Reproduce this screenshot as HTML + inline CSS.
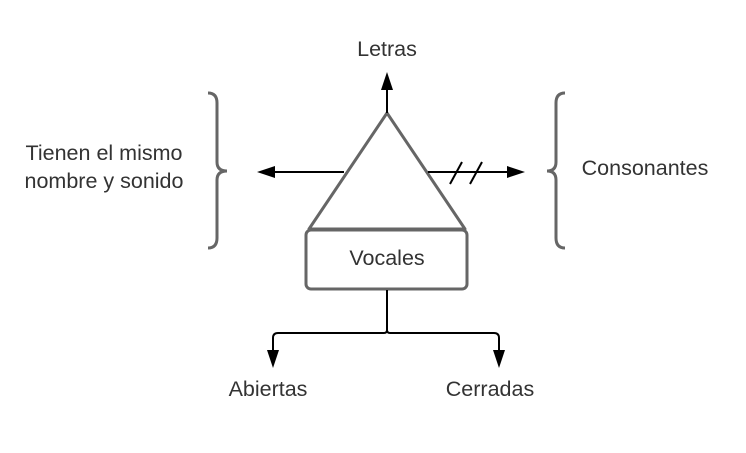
<!DOCTYPE html>
<html><head><style>
body{margin:0;background:#fff;}
svg text{font-family:"Liberation Sans",sans-serif;font-size:21.5px;fill:#333;}
</style></head><body>
<svg width="746" height="448" viewBox="0 0 746 448" xmlns="http://www.w3.org/2000/svg">
<g fill="none" stroke="#666" stroke-width="3">
<path d="M387 113 L309 229 L465 229 Z" stroke-linejoin="round"/>
<rect x="306" y="230" width="161" height="59" rx="5"/>
<path d="M208 93 Q217 93 217 103 L217 162 Q217 171 227 171 Q217 171 217 180 L217 238 Q217 248 208 248"/>
<path d="M565 93 Q556 93 556 103 L556 162 Q556 171 547 171 Q556 171 556 180 L556 238 Q556 248 565 248"/>
</g>
<g stroke="#000" stroke-width="2" fill="none">
<line x1="387" y1="113" x2="387" y2="88"/>
<line x1="344" y1="172" x2="272" y2="172"/>
<line x1="428" y1="172" x2="510" y2="172"/>
<line x1="450" y1="184" x2="462" y2="162"/>
<line x1="470" y1="184" x2="482" y2="162"/>
<path d="M387 290 L387 330 Q387 333 384 333 L278 333 Q273 333 273 338 L273 352"/>
<path d="M387 330 Q387 333 390 333 L494 333 Q499 333 499 338 L499 352"/>
</g>
<g fill="#000">
<polygon points="387,72 381,90 393,90"/>
<polygon points="257,172 275,166 275,178"/>
<polygon points="525,172 507,166 507,178"/>
<polygon points="273,368 267,350 279,350"/>
<polygon points="499,368 493,350 505,350"/>
</g>
<text x="387" y="56" text-anchor="middle">Letras</text>
<text x="387" y="265" text-anchor="middle">Vocales</text>
<text x="268" y="396" text-anchor="middle">Abiertas</text>
<text x="490" y="396" text-anchor="middle">Cerradas</text>
<text x="104" y="160" text-anchor="middle">Tienen el mismo</text>
<text x="104" y="188" text-anchor="middle">nombre y sonido</text>
<text x="645" y="175" text-anchor="middle">Consonantes</text>
</svg>
</body></html>
